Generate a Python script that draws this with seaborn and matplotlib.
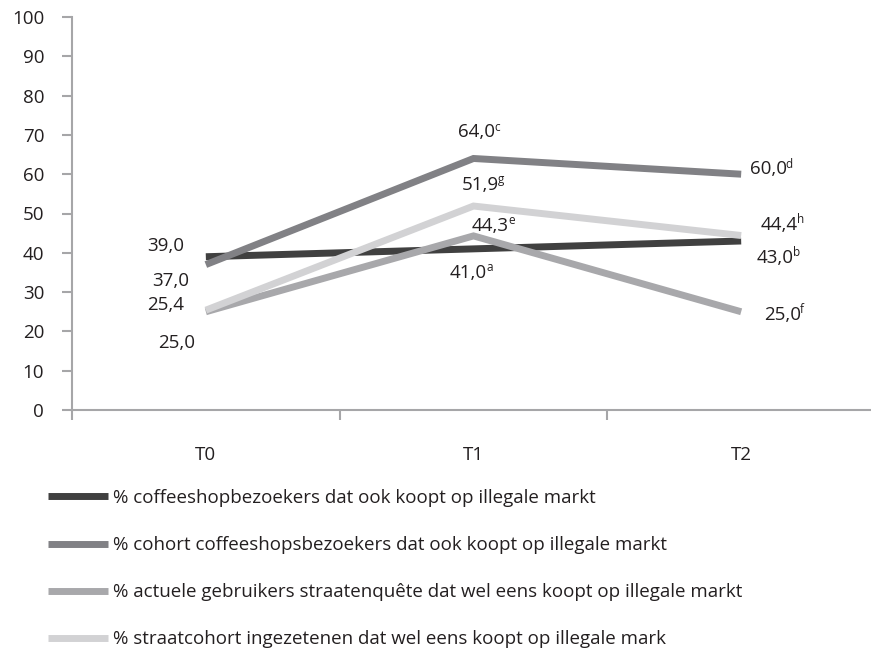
import matplotlib
matplotlib.use("Agg")
import matplotlib.pyplot as plt
import seaborn as sns
import pandas as pd

# data
momenten = ["T0", "T1", "T2"]
series_namen = [
    "% coffeeshopbezoekers dat ook koopt op illegale markt",
    "% cohort coffeeshopsbezoekers dat ook koopt op illegale markt",
    "% actuele gebruikers straatenquête dat wel eens koopt op illegale markt",
    "% straatcohort ingezetenen dat wel eens koopt op illegale mark",
]
coffeeshop = [39.0, 41.0, 43.0]
cohort = [37.0, 64.0, 60.0]
actueel = [25.0, 44.3, 25.0]
straatcohort = [25.4, 51.9, 44.4]
sup_coffeeshop = ["", "a", "b"]
sup_cohort = ["", "c", "d"]
sup_actueel = ["", "e", "f"]
sup_straat = ["", "g", "h"]

waarden = [coffeeshop, cohort, actueel, straatcohort]
sups = [sup_coffeeshop, sup_cohort, sup_actueel, sup_straat]
kleuren = ["#404040", "#818185", "#a8a8ab", "#d2d2d4"]

# label offsets in pixels (dx, dy) per serie per moment
offsets = [
    [(-40, 11), (-5, -24), (34, -17)],
    [(-35, -16), (3, 26), (27, 5)],
    [(-29, -31), (17, 10), (41, -3)],
    [(-40, 5), (7, 21), (38, 11)],
]

rows = []
for naam, vals in zip(series_namen, waarden):
    for i, v in enumerate(vals):
        rows.append({"serie": naam, "pos": i, "waarde": v})
df = pd.DataFrame(rows)

sns.set_style("white")
plt.rcParams["font.family"] = ["Open Sans", "DejaVu Sans"]
tekst = "#231f20"
as_kleur = "#a6a6a8"
fs = 13.5

fig = plt.figure(figsize=(8.71, 6.5), dpi=100)
ax = fig.add_axes([72 / 871, 1 - 410 / 650, (875 - 72) / 871, (410 - 17) / 650])

sns.lineplot(data=df, x="pos", y="waarde", hue="serie", hue_order=series_namen,
             palette=kleuren, linewidth=5, sort=False, ax=ax,
             solid_capstyle="butt", solid_joinstyle="miter")

ax.set_xlim(-0.5, 2.5)
ax.set_ylim(0, 100)
ax.set_yticks(range(0, 101, 10))
ax.set_xticks(range(len(momenten)))
ax.set_xticklabels(momenten)
ax.set_xticks([-0.5, 0.5, 1.5, 2.5], minor=True)
ax.set_xlabel("")
ax.set_ylabel("")
for s in ["top", "right"]:
    ax.spines[s].set_visible(False)
for s in ["left", "bottom"]:
    ax.spines[s].set_color(as_kleur)
    ax.spines[s].set_linewidth(1.5)
ax.tick_params(axis="y", direction="out", length=7, width=1.5, color=as_kleur,
               pad=13, labelsize=fs, labelcolor=tekst, left=True)
ax.tick_params(axis="x", which="major", length=0, pad=26, labelsize=fs, labelcolor=tekst)
ax.tick_params(axis="x", which="minor", direction="out", length=7, width=1.5,
               color=as_kleur, bottom=True)

# value labels
for vals, sp, offs in zip(waarden, sups, offsets):
    for i, v in enumerate(vals):
        t = ax.annotate(f"{v:.1f}".replace(".", ","), xy=(i, v), xytext=offs[i],
                        textcoords="offset pixels", ha="center", va="center",
                        fontsize=fs, color=tekst)
        if sp[i]:
            ax.annotate(sp[i], xy=(1, 0.42), xycoords=t, xytext=(-1, 0),
                        textcoords="offset pixels", ha="left", va="bottom",
                        fontsize=8.5, color=tekst)

# legend below the plot
handles, labels = ax.get_legend_handles_labels()
ax.legend_.remove()
leg = fig.legend(handles, labels, loc="upper left", bbox_to_anchor=(48 / 871, 1 - 489 / 650),
                 frameon=False, fontsize=fs, handlelength=3.2, handletextpad=0.27,
                 labelspacing=1.55, borderpad=0, borderaxespad=0)
for ln in leg.get_lines():
    ln.set_linewidth(5)
    ln.set_solid_capstyle("butt")
for txt in leg.get_texts():
    txt.set_color(tekst)

plt.savefig("out.png", dpi=100)
